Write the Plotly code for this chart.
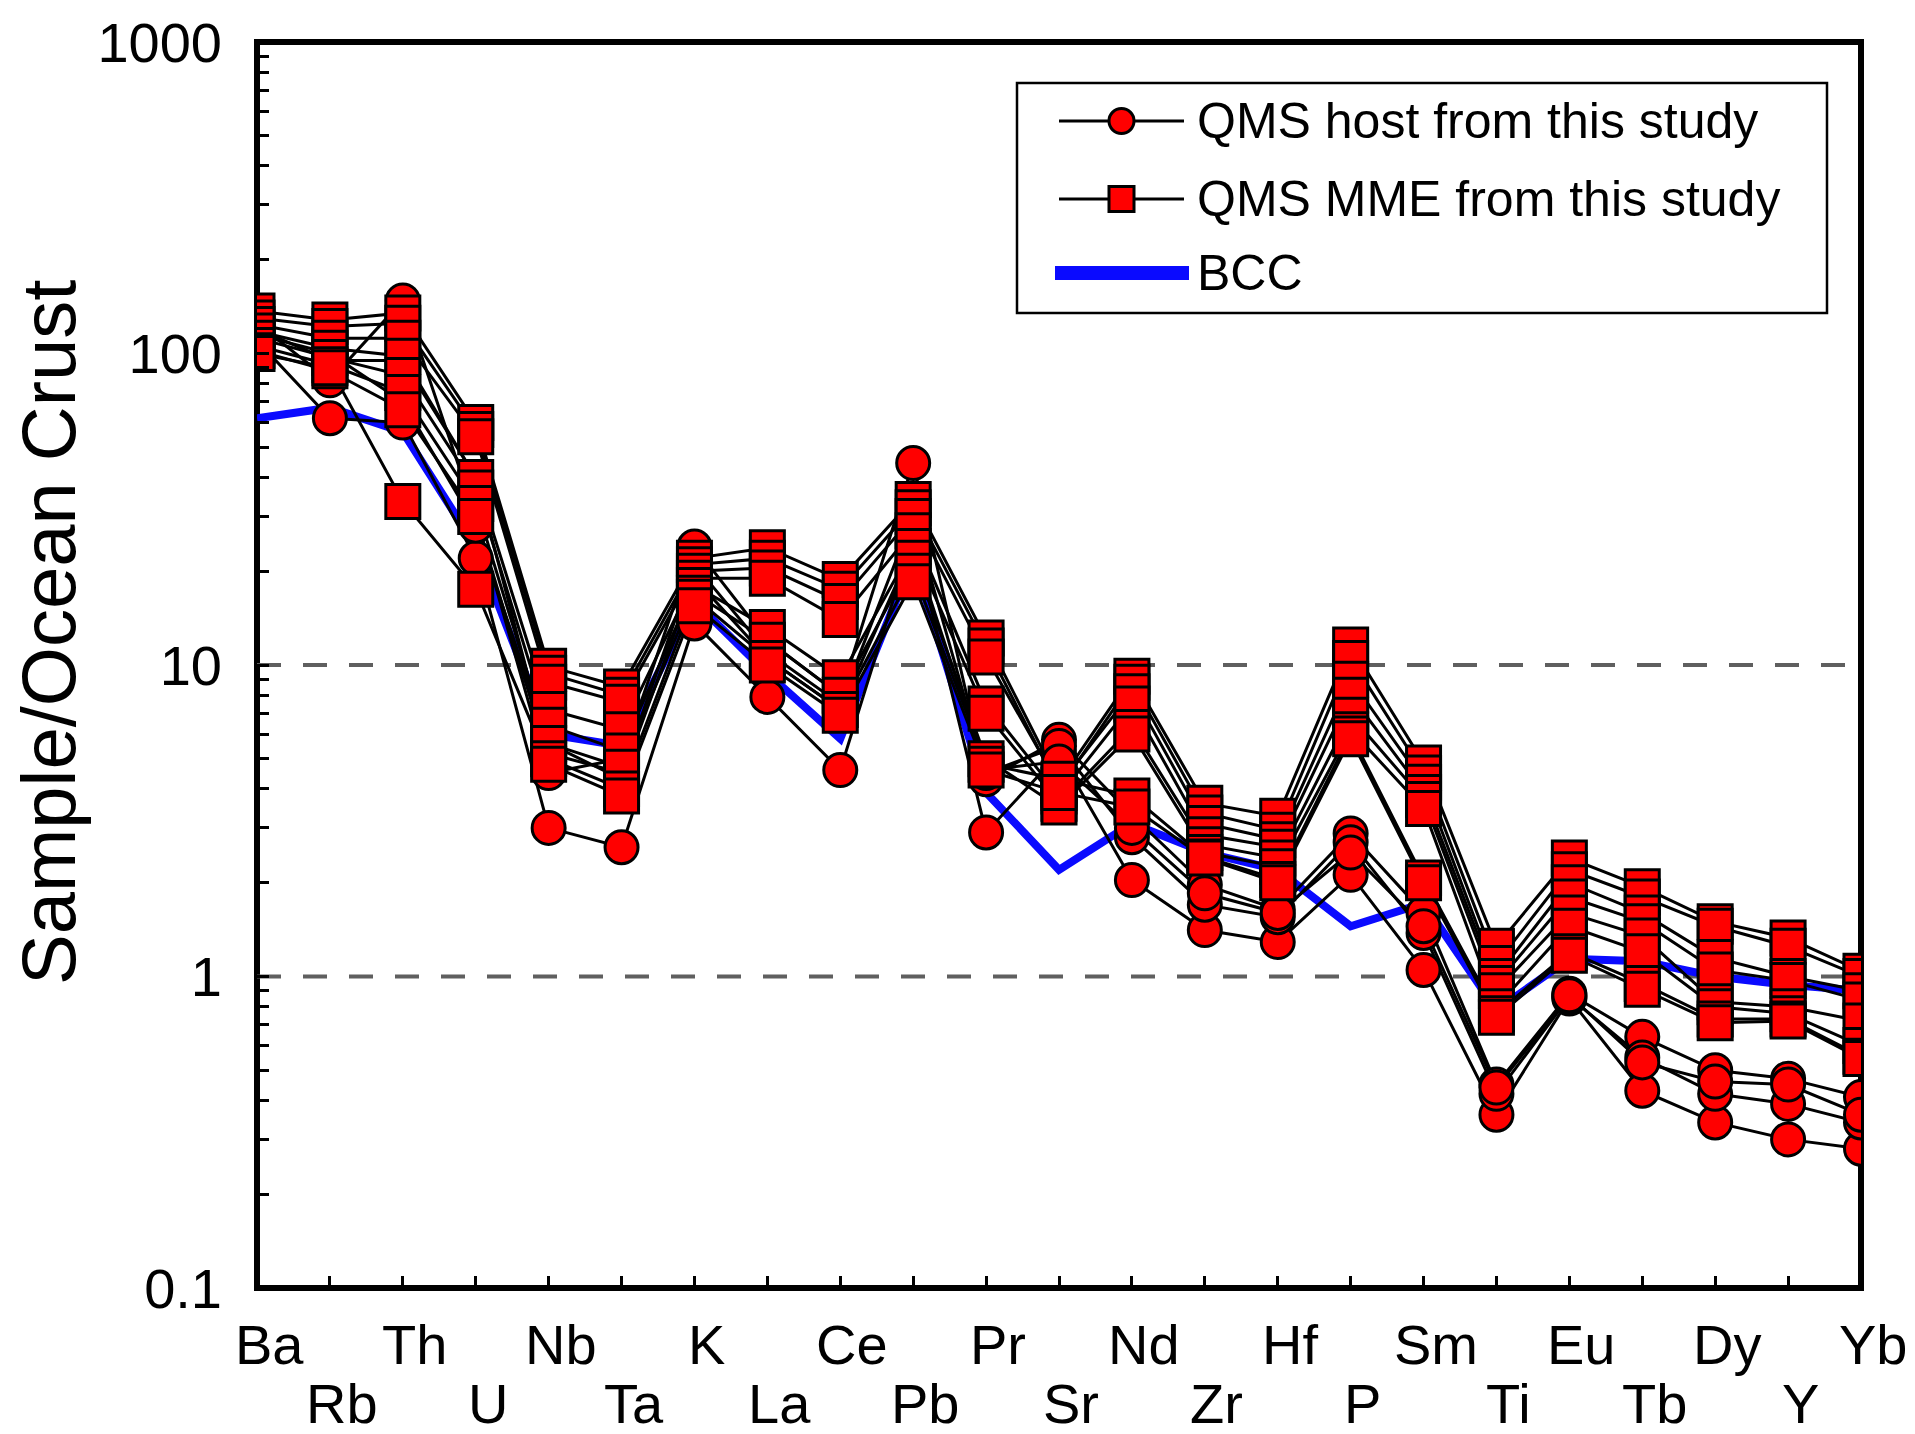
import plotly.graph_objects as go

# Trace elements, in spider-diagram order
ELEMENTS = ["Ba", "Rb", "Th", "U", "Nb", "Ta", "K", "La", "Ce", "Pb", "Pr", "Sr",
            "Nd", "Zr", "Hf", "P", "Sm", "Ti", "Eu", "Tb", "Dy", "Y", "Yb"]

# Bulk continental crust, normalised to ocean crust
BCC = [62, 67, 56, 24, 6.0, 5.5, 16, 9.4, 5.8, 22, 3.9, 2.2,
       3.1, 2.5, 2.2, 1.45, 1.72, 0.78, 1.14, 1.12, 1.0, 0.94, 0.9]

# QMS host samples (sample / ocean crust)
HOST_1 = [110, 62, 60, 22, 3.0, 2.6, 13.6, 7.9, 4.6, 26, 2.9, 5.2,
          2.04, 1.41, 1.29, 2.12, 1.05, 0.36, 0.85, 0.43, 0.34, 0.30, 0.28]
HOST_2 = [125, 82, 148, 30, 4.5, 5.0, 24, 12, 8.0, 44.5, 4.3, 5.75,
          3.3, 1.97, 1.64, 2.88, 1.6, 0.45, 0.88, 0.64, 0.50, 0.47, 0.41]
HOST_3 = [120, 95, 95, 40, 5.2, 4.5, 21, 11, 7.5, 30, 4.5, 5.5,
          2.8, 1.70, 1.55, 2.7, 1.38, 0.42, 0.86, 0.55, 0.42, 0.39, 0.34]
HOST_4 = [115, 100, 70, 28, 5.6, 4.3, 19, 10.5, 7.2, 24, 4.6, 4.9,
          3.0, 1.85, 1.6, 2.5, 1.45, 0.44, 0.87, 0.53, 0.46, 0.45, 0.36]

# QMS mafic microgranular enclaves (sample / ocean crust)
MME_1 = [137, 128, 135, 60, 9.9, 8.5, 22, 23.8, 18.8, 34, 12.2, 4.2,
         9.2, 3.6, 3.27, 11.6, 4.85, 1.25, 2.4, 1.94, 1.50, 1.33, 1.04]
MME_2 = [130, 122, 125, 57, 9.4, 8.0, 21, 22, 17.5, 32, 11.5, 4.0,
         8.8, 3.35, 2.95, 10.5, 4.5, 1.1, 2.2, 1.8, 1.45, 1.25, 1.0]
MME_3 = [124, 112, 112, 54, 8.8, 7.6, 20, 20.5, 16, 30, 10.6, 4.1,
         8.2, 3.1, 2.75, 9.0, 4.2, 1.0, 2.0, 1.6, 1.15, 1.0, 0.9]
MME_4 = [118, 104, 98, 40, 7.2, 6.2, 19, 19, 14, 27, 7.5, 3.8,
         7.5, 2.85, 2.6, 8.0, 3.9, 0.95, 1.8, 1.5, 1.05, 0.97, 0.84]
MME_5 = [112, 97, 85, 37, 6.4, 5.3, 18, 13.2, 9.1, 24, 7.0, 3.6,
         6.3, 2.65, 2.4, 6.9, 3.7, 0.9, 1.6, 1.35, 0.83, 0.80, 0.72]
MME_6 = [106, 92, 75, 33, 5.6, 4.7, 17, 12, 8.0, 22, 5.0, 3.5,
         6.0, 2.5, 2.25, 6.2, 3.46, 0.8, 1.45, 1.2, 0.80, 0.76, 0.60]
MME_7 = [102, 88, 66, 30, 5.0, 4.0, 16.5, 10.5, 7.2, 20, 4.8, 4.3,
         3.8, 2.42, 2.05, 6.0, 2.07, 0.76, 1.2, 0.95, 0.73, 0.73, 0.555]
MME_8 = [100, 90, 33.5, 17.5, 4.8, 3.8, 15.5, 10, 6.9, 18.5, 4.6, 3.9,
         3.5, 2.4, 2.0, 5.8, 2.0, 0.74, 1.17, 0.91, 0.71, 0.72, 0.545]

HOSTS = [HOST_1, HOST_2, HOST_3, HOST_4]
MMES = [MME_1, MME_2, MME_3, MME_4, MME_5, MME_6, MME_7, MME_8]

Y_TICKS = [0.1, 1, 10, 100, 1000]
Y_TICK_TEXT = ["0.1", "1", "10", "100", "1000"]
REF_LEVELS = [1, 10]

LEGEND_LABELS = ["QMS host from this study", "QMS MME from this study", "BCC"]

FONT = "Liberation Sans, Arial, Helvetica, sans-serif"
RED = "#ff0000"
BLUE = "#0a0aff"

W, H = 1915, 1434
ML, MR, MT, MB = 257, 54, 42, 146

fig = go.Figure()

# connecting lines first, so all symbols sit on top of them
fig.add_trace(go.Scatter(x=ELEMENTS, y=BCC, mode="lines",
                         line=dict(color=BLUE, width=8), showlegend=False,
                         hoverinfo="skip"))
for series in HOSTS + MMES:
    fig.add_trace(go.Scatter(x=ELEMENTS, y=series, mode="lines",
                             line=dict(color="black", width=3),
                             showlegend=False, hoverinfo="skip"))
for series in HOSTS:
    fig.add_trace(go.Scatter(x=ELEMENTS, y=series, mode="markers",
                             marker=dict(symbol="circle", size=33, color=RED,
                                         line=dict(color="black", width=3)),
                             showlegend=False))
for series in MMES:
    fig.add_trace(go.Scatter(x=ELEMENTS, y=series, mode="markers",
                             marker=dict(symbol="square", size=34, color=RED,
                                         line=dict(color="black", width=3)),
                             showlegend=False))

# ---- hand-built legend on a pixel-space overlay axis pair ----
LEG_BOX = (1017, 83, 1827, 313)
LEG_ROWS = [121, 199, 273]
LEG_LINE = (1059, 1184)
LEG_TEXT_X = 1195

for row, (label, sym) in enumerate(zip(LEGEND_LABELS, ["circle", "square", None])):
    y = LEG_ROWS[row]
    if sym is None:
        fig.add_trace(go.Scatter(x=[LEG_LINE[0] - 4, LEG_LINE[1] + 5], y=[y, y],
                                 mode="lines", line=dict(color=BLUE, width=14),
                                 xaxis="x2", yaxis="y2", showlegend=False,
                                 hoverinfo="skip"))
    else:
        fig.add_trace(go.Scatter(x=list(LEG_LINE), y=[y, y], mode="lines",
                                 line=dict(color="black", width=3),
                                 xaxis="x2", yaxis="y2", showlegend=False,
                                 hoverinfo="skip"))
        fig.add_trace(go.Scatter(x=[(LEG_LINE[0] + LEG_LINE[1]) / 2], y=[y],
                                 mode="markers",
                                 marker=dict(symbol=sym, size=25, color=RED,
                                             line=dict(color="black", width=3)),
                                 xaxis="x2", yaxis="y2", showlegend=False,
                                 hoverinfo="skip"))

shapes = [
    # plot frame
    dict(type="rect", xref="paper", yref="paper", x0=0, x1=1, y0=0, y1=1,
         line=dict(color="black", width=6), layer="below"),
    # legend box
    dict(type="rect", xref="x2", yref="y2", x0=LEG_BOX[0], y0=LEG_BOX[1],
         x1=LEG_BOX[2], y1=LEG_BOX[3], line=dict(color="black", width=2.5),
         fillcolor="white", layer="below"),
]
for lv in REF_LEVELS:
    shapes.append(dict(type="line", xref="paper", yref="y", x0=0, x1=1,
                       y0=lv, y1=lv, layer="below",
                       line=dict(color="#5f5f5f", width=4, dash="24px,22px")))

annotations = []
for i, el in enumerate(ELEMENTS):
    annotations.append(dict(x=el, y=0, xref="x", yref="paper", text=el,
                            showarrow=False, xanchor="center", yanchor="middle",
                            xshift=12, yshift=-56 if i % 2 == 0 else -115,
                            font=dict(family=FONT, size=56, color="black")))
for label, y in zip(LEGEND_LABELS, LEG_ROWS):
    annotations.append(dict(x=LEG_TEXT_X, y=y, xref="x2", yref="y2", text=label,
                            showarrow=False, xanchor="left", yanchor="middle",
                            font=dict(family=FONT, size=50, color="black")))
annotations.append(dict(x=0, y=(H - MB - 633) / (H - MB - MT), xref="paper",
                        yref="paper", xshift=-(ML - 48), text="Sample/Ocean Crust",
                        textangle=-90, showarrow=False, xanchor="center",
                        yanchor="middle",
                        font=dict(family=FONT, size=76, color="black")))

minor_vals = [m * 10 ** k for k in range(-1, 3) for m in range(2, 10)]

fig.update_layout(
    width=W, height=H,
    margin=dict(l=ML, r=MR, t=MT, b=MB, pad=0),
    paper_bgcolor="white", plot_bgcolor="white",
    showlegend=False,
    font=dict(family=FONT, color="black"),
    xaxis=dict(type="category", categoryorder="array", categoryarray=ELEMENTS,
               range=[0, len(ELEMENTS) - 1], showgrid=False, zeroline=False,
               showline=False, ticks="inside", ticklen=12, tickwidth=3,
               tickcolor="black", showticklabels=False),
    yaxis=dict(type="log", range=[-1, 3], tickvals=Y_TICKS, ticktext=Y_TICK_TEXT,
               showgrid=False, zeroline=False, showline=False,
               ticks="inside", ticklen=12, tickwidth=3, tickcolor="black",
               tickfont=dict(family=FONT, size=56, color="black"),
               ticklabelstandoff=34,
               minor=dict(tickvals=minor_vals, ticks="inside", ticklen=12,
                          tickwidth=3, tickcolor="black", showgrid=False)),
    xaxis2=dict(overlaying="x", range=[ML, W - MR], visible=False, fixedrange=True),
    yaxis2=dict(overlaying="y", range=[H - MB, MT], visible=False, fixedrange=True),
    shapes=shapes,
    annotations=annotations,
)

fig.write_html("out.html")
